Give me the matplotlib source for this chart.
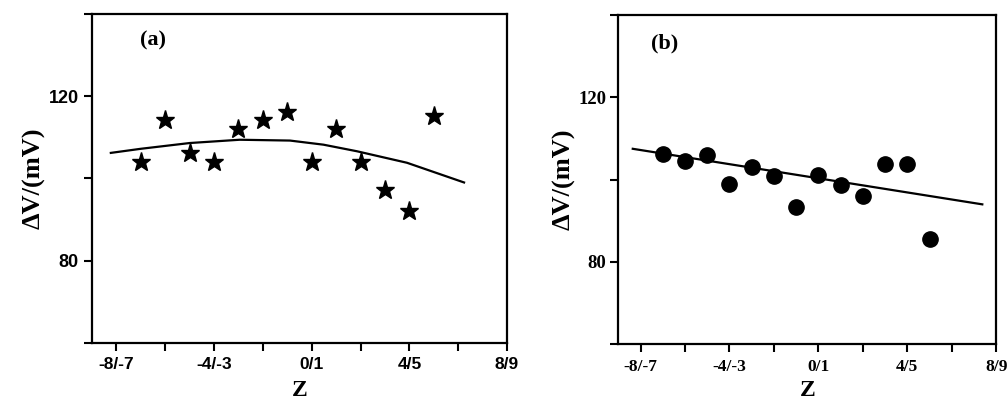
import numpy as np
import matplotlib
matplotlib.use("Agg")
import matplotlib.pyplot as plt

# panel (a): stars + fitted curve
z_a = [-7, -6, -5, -4, -3, -2, -1, 0, 1, 2, 3, 4, 5]
dv_a = [104, 114.1, 106.2, 104, 112, 114.1, 116.2, 104, 112, 104, 97.1, 92, 115.1]
fit_z_a = [-8.23, -7, -5, -2.95, -0.89, 0.48, 1.85, 3.9, 6.24]
fit_dv_a = [106.2, 107.2, 108.6, 109.4, 109.2, 108.2, 106.6, 103.8, 99.0]

# panel (b): circles + linear fit
z_b = [-7, -6, -5, -4, -3, -2, -1, 0, 1, 2, 3, 4, 5]
dv_b = [106.3, 104.6, 106.0, 99.0, 103.0, 100.9, 93.3, 101.1, 98.6, 96.0, 103.8, 103.8, 85.6]
fit_z_b = [-8.35, 7.37]
fit_dv_b = [107.5, 94.0]

xticks = [-8, -6, -4, -2, 0, 2, 4, 6, 8]
xlabels = ['-8/-7', '', '-4/-3', '', '0/1', '', '4/5', '', '8/9']
yticks = [60, 80, 100, 120, 140]
ylabels = ['', '80', '', '120', '']

serif = ['Liberation Serif', 'DejaVu Serif']
sans = ['Liberation Sans', 'DejaVu Sans']

fig = plt.figure(figsize=(10.08, 4.04), dpi=100)
ax1 = fig.add_axes([0.0913, 0.1517, 0.4117, 0.8136])
ax2 = fig.add_axes([0.6134, 0.1478, 0.375, 0.815])

def style(ax, tickfont, ysize, ypad, ylab_x, xlab_y):
    ax.set_xlim(-9, 8)
    ax.set_ylim(60, 140)
    ax.set_xticks(xticks)
    ax.set_xticklabels(xlabels, family=tickfont, fontweight='bold', fontsize=12.5)
    ax.set_yticks(yticks)
    ax.set_yticklabels(ylabels, family=tickfont, fontweight='bold', fontsize=ysize)
    ax.tick_params(direction='out', length=5.5, width=1.5)
    ax.tick_params(axis='x', pad=5)
    ax.tick_params(axis='y', pad=ypad)
    for s in ax.spines.values():
        s.set_linewidth(1.6)
    ax.set_xlabel('Z', family=serif, fontweight='bold', fontsize=17)
    ax.set_ylabel('ΔV/(mV)', family=serif, fontweight='bold', fontsize=19)
    ax.yaxis.set_label_coords(ylab_x, 0.5)
    ax.xaxis.set_label_coords(0.5, xlab_y)

ax1.plot(z_a, dv_a, linestyle='none', marker='*', ms=14, color='black')
ax1.plot(fit_z_a, fit_dv_a, color='black', lw=1.6)
style(ax1, sans, 13, 4, -0.112, -0.113)
ax1.text(0.148, 0.92, '(a)', transform=ax1.transAxes, family=serif,
         fontweight='bold', fontsize=16, ha='center', va='center')

ax2.plot(z_b, dv_b, linestyle='none', marker='o', ms=11, color='black')
ax2.plot(fit_z_b, fit_dv_b, color='black', lw=1.6)
style(ax2, serif, 13.5, 3, -0.114, -0.108)
ax2.text(0.122, 0.915, '(b)', transform=ax2.transAxes, family=serif,
         fontweight='bold', fontsize=16, ha='center', va='center')

fig.savefig('out.png', dpi=100)
